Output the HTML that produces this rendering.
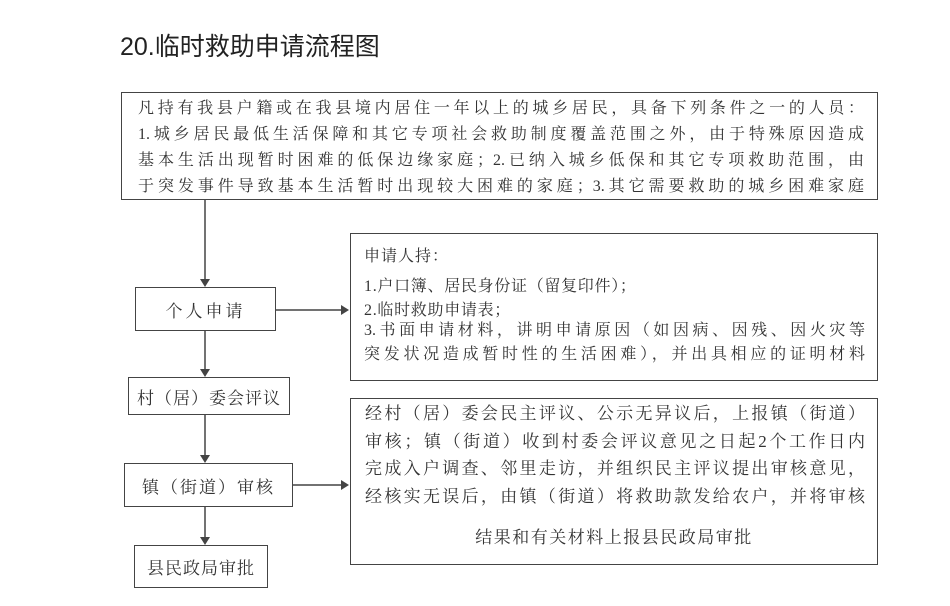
<!DOCTYPE html>
<html><head><meta charset="utf-8"><style>
body{margin:0;width:950px;height:606px;background:#fff;position:relative;overflow:hidden;font-family:"Liberation Serif","Noto Serif CJK SC",serif;color:#333}
.t{position:absolute;white-space:nowrap}
.box{position:absolute;border:1.5px solid #444;box-sizing:border-box}
.j{position:absolute;text-align:justify;text-align-last:justify;white-space:nowrap;overflow:visible}
.c{position:absolute;display:flex;align-items:center;justify-content:center;font-size:17px;letter-spacing:3px}
</style></head><body>
<div class="t" style="left:120px;top:27px;font-size:25px;font-family:'Liberation Sans','Noto Sans CJK SC',sans-serif;color:#222">20.临时救助申请流程图</div>

<div class="box" style="left:121px;top:92px;width:757px;height:108px"></div>
<div class="j" style="left:138px;top:96px;width:726px;font-size:16px;line-height:26px">凡持有我县户籍或在我县境内居住一年以上的城乡居民，具备下列条件之一的人员：<br>1.城乡居民最低生活保障和其它专项社会救助制度覆盖范围之外，由于特殊原因造成<br>基本生活出现暂时困难的低保边缘家庭；2.已纳入城乡低保和其它专项救助范围，由<br>于突发事件导致基本生活暂时出现较大困难的家庭；3.其它需要救助的城乡困难家庭</div>

<div class="box" style="left:350px;top:233px;width:528px;height:148px"></div>
<div class="t" style="left:364px;top:243px;font-size:16px;letter-spacing:1px">申请人持：</div>
<div class="t" style="left:364px;top:273px;font-size:16px;letter-spacing:0.7px">1.户口簿、居民身份证（留复印件）；</div>
<div class="t" style="left:364px;top:297px;font-size:16px;letter-spacing:0.7px">2.临时救助申请表；</div>
<div class="j" style="left:364px;top:319px;width:501px;font-size:16px;line-height:24px">3.书面申请材料，讲明申请原因（如因病、因残、因火灾等<br>突发状况造成暂时性的生活困难），并出具相应的证明材料</div>

<div class="box" style="left:350px;top:398px;width:528px;height:167px"></div>
<div class="j" style="left:365px;top:400px;width:500px;font-size:17px;line-height:27.5px">经村（居）委会民主评议、公示无异议后，上报镇（街道）<br>审核；镇（街道）收到村委会评议意见之日起2个工作日内<br>完成入户调查、邻里走访，并组织民主评议提出审核意见，<br>经核实无误后，由镇（街道）将救助款发给农户，并将审核</div>
<div class="t" style="left:350px;width:528px;text-align:center;top:523px;font-size:17px;letter-spacing:1.5px">结果和有关材料上报县民政局审批</div>

<div class="box c" style="left:135px;top:287px;width:141px;height:44px">个人申请</div>
<div class="box c" style="left:128px;top:377px;width:162px;height:38px;letter-spacing:1px">村（居）委会评议</div>
<div class="box c" style="left:124px;top:463px;width:169px;height:44px;letter-spacing:2px">镇（街道）审核</div>
<div class="box c" style="left:134px;top:545px;width:134px;height:43px;letter-spacing:1px">县民政局审批</div>

<svg width="950" height="606" style="position:absolute;left:0;top:0">
<g stroke="#444" stroke-width="1.5" fill="#444">
<line x1="205" y1="200" x2="205" y2="280"/><polygon points="200,279 210,279 205,287" stroke="none"/>
<line x1="205" y1="331" x2="205" y2="370"/><polygon points="200,369 210,369 205,377" stroke="none"/>
<line x1="205" y1="415" x2="205" y2="456"/><polygon points="200,455 210,455 205,463" stroke="none"/>
<line x1="205" y1="507" x2="205" y2="538"/><polygon points="200,537 210,537 205,545" stroke="none"/>
<line x1="276" y1="310" x2="342" y2="310"/><polygon points="341,305 341,315 349,310" stroke="none"/>
<line x1="293" y1="485" x2="342" y2="485"/><polygon points="341,480 341,490 349,485" stroke="none"/>
</g></svg>
</body></html>
